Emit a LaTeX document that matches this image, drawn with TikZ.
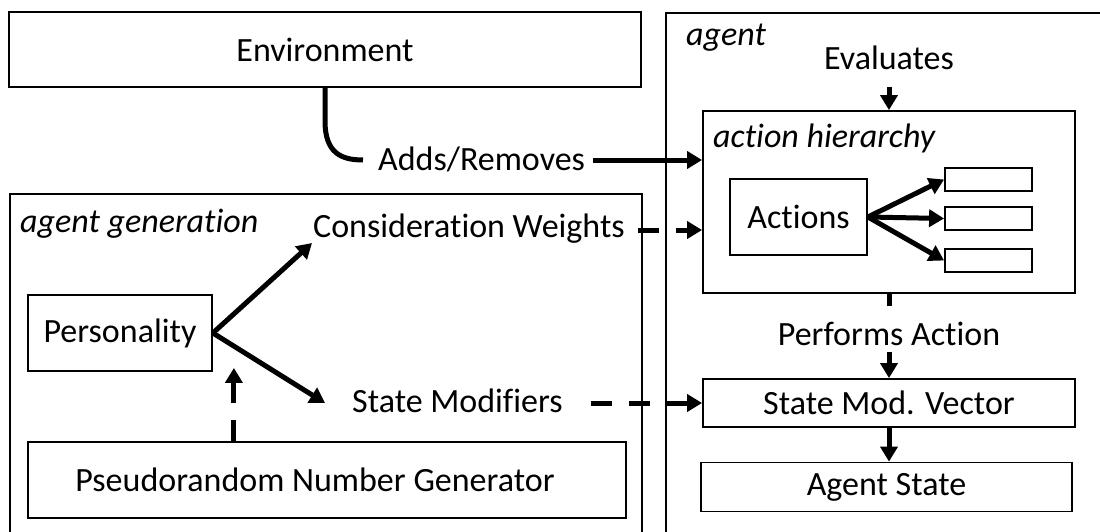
\documentclass[tikz,border=0pt]{standalone}
\usepackage{fontspec}
\setmainfont{Carlito}[Ligatures={NoCommon}]
\usetikzlibrary{arrows.meta,calc}

\begin{document}
\begin{tikzpicture}[x=1pt,y=-1pt,
  box/.style={draw, line width=1.8pt, inner sep=0pt},
  txt/.style={font=\fontsize{34}{40}\selectfont, inner sep=0pt},
  tag/.style={font=\fontsize{34}{40}\selectfont\itshape, inner sep=0pt, anchor=base west},
  conn/.style={line width=5pt},
  flow/.style={line width=5pt, -{Triangle[length=15pt,width=17pt]}},
  dflow/.style={flow, dash pattern=on 21pt off 17pt},
]
\useasboundingbox (0,0) rectangle (1100,532);
\clip (0,0) rectangle (1100,532);

% containers (open towards the page edges)
\node[box, anchor=north west, minimum width=632pt, minimum height=400pt] (gen) at (9,193) {};
\node[box, anchor=north west, minimum width=500pt, minimum height=560pt] (agent) at (665,12) {};
\node[tag] (agentlbl) at (686,46) {agent};
\node[tag] (genlbl) at (20,232) {agent generation};

% environment
\node[box, txt, minimum width=632pt, minimum height=75pt] (env) at (325,49.5) {Environment};
\node[txt, anchor=base west] (adds) at (378,170) {Adds/Removes};

% agent side
\node[txt, anchor=base] (eval) at (889,70) {Evaluates};
\node[box, minimum width=372pt, minimum height=182pt] (ah) at (889,202) {};
\node[tag] (ahlbl) at (713,148) {action hierarchy};
\node[box, txt, minimum width=137pt, minimum height=76pt] (act) at (798.5,217) {Actions};
\node[box, minimum width=87pt, minimum height=23pt] (s1) at (988.5,179.5) {};
\node[box, minimum width=87pt, minimum height=23pt] (s2) at (988.5,218.5) {};
\node[box, minimum width=87pt, minimum height=23pt] (s3) at (988.5,260.5) {};
\node[txt, anchor=base] (perf) at (889,345) {Performs Action};
\node[box, txt, minimum width=372pt, minimum height=48pt] (smv) at (889,403) {State Mod. Vector};
\node[box, txt, minimum width=371pt, minimum height=49pt] (ast) at (886.5,487) {Agent State};

% agent generation side
\node[box, txt, minimum width=184pt, minimum height=76pt] (pers) at (120,333) {Personality};
\node[txt, anchor=base west] (cw) at (313,237) {Consideration Weights};
\node[txt, anchor=base west] (sm) at (352,412) {State Modifiers};
\node[box, minimum width=598pt, minimum height=76pt,
      label={[txt, xshift=-12pt]center:Pseudorandom Number Generator}] (prng) at (327,480) {};

% connector end points
\coordinate (addsin) at ($(adds.base west)+(-15,-10)$);
\coordinate (addsout) at ($(adds.base east)+(8,-10)$);
\coordinate (cwin) at ($(cw.base west)+(-1,6)$);
\coordinate (cwout) at ($(cw.base east)+(13,-7)$);
\coordinate (smin) at ($(sm.base west)+(-27,-9)$);
\coordinate (smout) at ($(sm.base east)+(28,-9)$);
\coordinate (rngtip) at ($(pers.south east)+(21,-4)$);

% connectors
\draw[conn] (env.south) -- ++(0,33) .. controls +(0,32) and +(-22,0) .. (addsin);
\draw[flow] (addsout) -- (addsout -| ah.west);
\draw[flow, shorten <=17pt] (eval.base) -- (ah.north);
\draw[flow] (act.east) -- (s1.west);
\draw[flow] (act.east) -- (s2.west);
\draw[flow] (act.east) -- (s3.west);
\draw[conn] (ah.south) -- ++(0,12);
\draw[flow, shorten <=7pt] (perf.base) -- (smv.north);
\draw[flow] (smv.south) -- (smv.south |- ast.north);
\draw[flow] (pers.east) -- (cwin);
\draw[flow] (pers.east) -- (smin);
\draw[dflow] (rngtip |- prng.north) -- (rngtip);
\draw[dflow] (cwout) -- (cwout -| ah.west);
\draw[dflow] (smout) -- (smv.west);
\end{tikzpicture}
\end{document}
